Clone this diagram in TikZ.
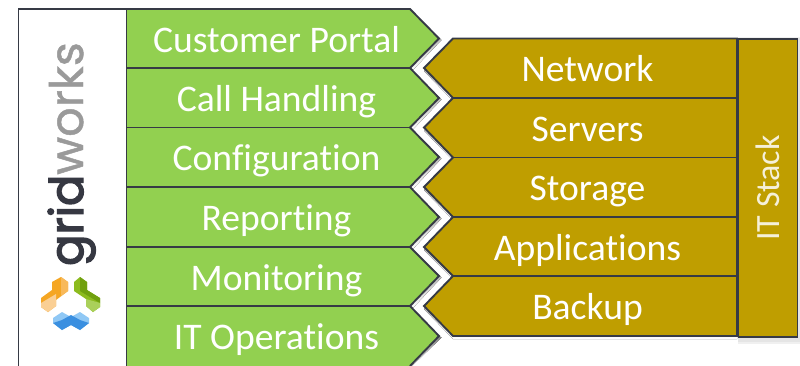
\documentclass[tikz,border=0pt]{standalone}
\usepackage{fontspec}
\setmainfont[RawFeature={-liga;-clig}]{Carlito}
\newfontfamily\logofontA[FakeBold=1]{Poppins}
\newfontfamily\logofontB[FakeBold=3]{Poppins}
\definecolor{grn}{HTML}{92D050}
\definecolor{brn}{HTML}{BF9E00}
\definecolor{edge}{HTML}{363A45}
\definecolor{shade}{HTML}{A9A9A9}
\definecolor{logodark}{HTML}{363842}
\definecolor{logogray}{HTML}{9A9A9A}
\tikzset{
  x=1pt,y=-1pt,
  edgeline/.style={draw=edge,line width=1.9pt,line join=miter},
  lbl/.style={text=white,font=\fontsize{37.6}{38}\selectfont,inner sep=0pt,anchor=base},
}
\newcommand{\greenrow}[3]{%
  \fill[shade] (127,#1+3) -- (412,#1+3) -- (441.5,#3+1.5) -- (412,#2+3) -- (127,#2+3) -- cycle;
  \fill[grn] (127,#1) -- (410,#1) -- (439,#3) -- (410,#2) -- (127,#2) -- cycle;
}
\newcommand{\brownrow}[3]{%
  \fill[shade] (424,#3+3) -- (453,#2+3) -- (737,#2+3) -- (737,#1+3) -- (453,#1+3) -- cycle;
  \fill[brn] (424,#3) -- (453,#1) -- (737,#1) -- (737,#2) -- (453,#2) -- cycle;
}
\begin{document}
\begin{tikzpicture}
\useasboundingbox (0,0) rectangle (800,365);
\fill[white] (18.5,9) rectangle (126.5,366);
\greenrow{9}{68}{38.5}
\greenrow{68}{127.5}{98}
\greenrow{127.5}{187}{157}
\greenrow{187}{247}{217}
\greenrow{247}{306}{276}
\fill[shade] (439,336) -- (441.5,337.5) -- (412,366) -- (410,366) -- cycle;
\fill[grn] (127,306) -- (410,306) -- (439,336) -- (410,366) -- (127,366) -- cycle;
\draw[edgeline] (18.5,366) -- (18.5,9) -- (126.5,9) -- (126.5,366);
\draw[edgeline] (126.5,9) -- (410,9) -- (439,38.5) -- (410,68) -- (439,98) -- (410,127.5) -- (439,157) -- (410,187) -- (439,217) -- (410,247) -- (439,276) -- (410,306) -- (439,336) -- (410,366);
\foreach \yy in {68,127.5,187,247,306} \draw[edgeline] (127,\yy) -- (410,\yy);
\brownrow{38.5}{98}{68}
\brownrow{98}{157.5}{127.5}
\brownrow{157.5}{217}{187}
\brownrow{217}{276}{247}
\brownrow{276}{336}{306}
\draw[edgeline] (737,38.5) -- (453,38.5) -- (424,68) -- (453,98) -- (424,127.5) -- (453,157.5) -- (424,187) -- (453,217) -- (424,247) -- (453,276) -- (424,306) -- (453,336) -- (737,336) -- cycle;
\foreach \yy in {98,157.5,217,276} \draw[edgeline] (453,\yy) -- (737,\yy);
\fill[black!6] (738,37) rectangle (800,344);
\fill[black!10] (738,38) rectangle (800,342);
\node[edgeline,fill=brn,minimum width=59pt,minimum height=298pt,inner sep=0pt] (stack) at (768,188) {};
\node[text=white!85!brn,font=\fontsize{34}{34}\selectfont,rotate=90,inner sep=0pt] (stacklabel) at (stack.center) {IT Stack};
\node[lbl] (a1) at (276.5,52.5) {Customer Portal};
\node[lbl] (a2) at (276.5,111.5) {Call Handling};
\node[lbl] (a3) at (276.5,170.5) {Configuration};
\node[lbl] (a4) at (276.5,230.5) {Reporting};
\node[lbl] (a5) at (276.5,290.5) {Monitoring};
\node[lbl] (a6) at (276.5,349.5) {IT Operations};
\node[lbl] (b1) at (587.5,81.5) {Network};
\node[lbl] (b2) at (587.5,141.5) {Servers};
\node[lbl] (b3) at (587.5,200.5) {Storage};
\node[lbl] (b4) at (587.5,260.5) {Applications};
\node[lbl] (b5) at (587.5,319.5) {Backup};
\node[rotate=90,anchor=base west,inner sep=0pt,font=\fontsize{46.2}{46}\selectfont] (logo) at (83,266) {\textcolor{logodark}{\logofontB grid}\textcolor{logogray}{\logofontA works}};
% logo mark: orange
\fill[color={rgb,255:red,245;green,166;blue,35}] (61,277) -- (68,282) -- (68,291) -- (56,300) -- (56,306) -- (48,312) -- (41,307) -- (41,298) -- (52,290) -- (52,282) -- cycle;
\fill[color={rgb,255:red,248;green,185;blue,90}] (61,277) -- (68,282) -- (68,291) -- (61,296) -- cycle;
\fill[color={rgb,255:red,250;green,207;blue,148}] (41,303) -- (56,294) -- (56,306) -- (48,312) -- (41,307) -- cycle;
% logo mark: green
\fill[color={rgb,255:red,140;green,187;blue,30}] (80,277) -- (74,282) -- (74,291) -- (86,299) -- (86,306) -- (93,312) -- (100,307) -- (100,298) -- (87,290) -- (87,282) -- cycle;
\fill[color={rgb,255:red,112;green,160;blue,15}] (80,277) -- (87,282) -- (87,290) -- (100,298) -- (100,303) -- (80,291) -- cycle;
\fill[color={rgb,255:red,170;green,208;blue,90}] (86,299) -- (100,303) -- (100,307) -- (93,312) -- (86,306) -- cycle;
% logo mark: blue
\fill[color={rgb,255:red,144;green,200;blue,245}] (53,318) -- (62,312) -- (71,317) -- (80,312) -- (89,318) -- (89,323) -- (80,330) -- (71,325) -- (62,330) -- (53,323) -- cycle;
\fill[color={rgb,255:red,58;green,143;blue,224}] (53,323) -- (62,320) -- (71,315) -- (80,320) -- (89,323) -- (80,330) -- (71,325) -- (62,330) -- cycle;
\end{tikzpicture}
\end{document}
